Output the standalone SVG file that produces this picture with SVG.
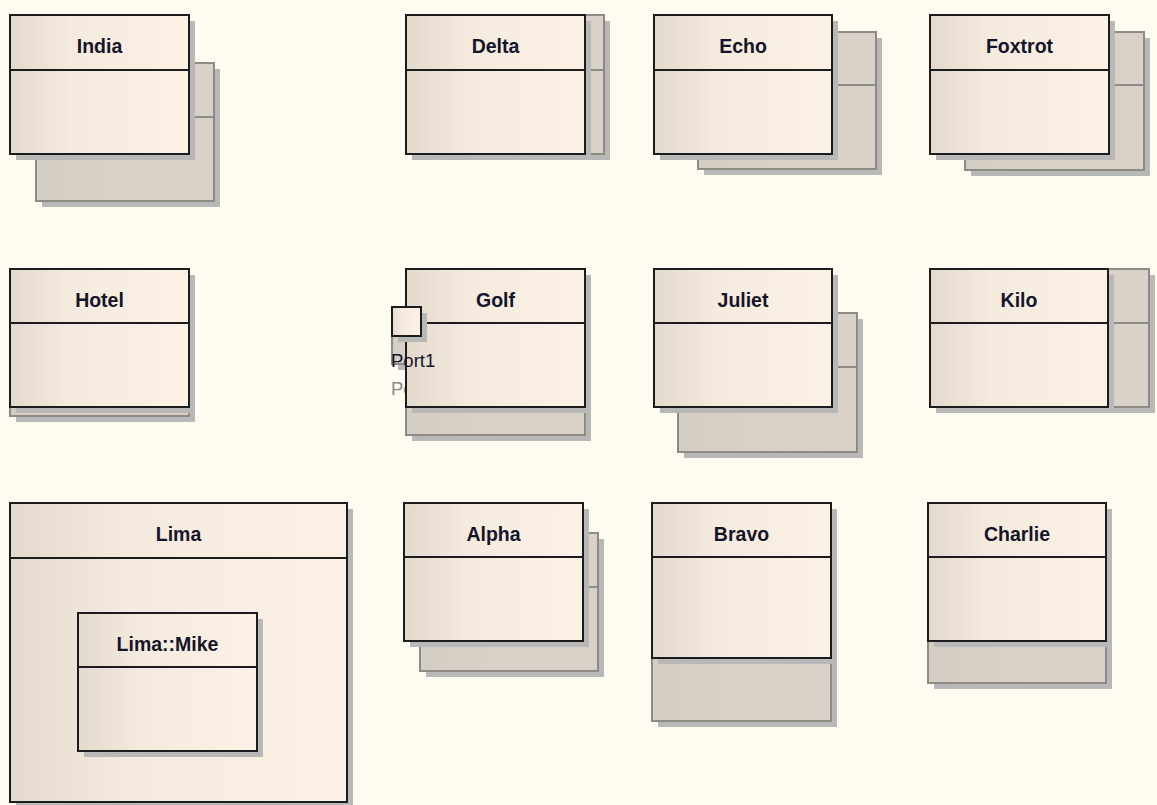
<svg xmlns="http://www.w3.org/2000/svg" width="1157" height="805" viewBox="0 0 1157 805">
<defs>
<linearGradient id="mg" x1="0" y1="0" x2="1" y2="0">
<stop offset="0" stop-color="#e3dacd"/>
<stop offset="0.35" stop-color="#f4eadd"/>
<stop offset="1" stop-color="#fbf1e4"/>
</linearGradient>
<linearGradient id="gg" x1="0" y1="0" x2="1" y2="0">
<stop offset="0" stop-color="#d3cdc3"/>
<stop offset="0.4" stop-color="#d8d1c7"/>
<stop offset="1" stop-color="#dad2c8"/>
</linearGradient>
<style>
.sh{fill:#b8b8b8}
.gh{fill:url(#gg);stroke:#8e8a85;stroke-width:2}
.gl{stroke:#8e8a85;stroke-width:2}
.mn{fill:url(#mg);stroke:#1c1c1c;stroke-width:2}
.ml{stroke:#1c1c1c;stroke-width:2}
.lb{font-family:"Liberation Sans",Arial,sans-serif;font-weight:bold;font-size:19.5px;fill:#15152a;text-anchor:middle}
.pt{font-family:"Liberation Sans",Arial,sans-serif;font-size:18.5px}
</style>
</defs>
<rect x="0" y="0" width="1157" height="805" fill="#fefbf0"/>

<g id="india">
<rect class="sh" x="42" y="69" width="178" height="138"/>
<rect class="gh" x="36" y="63" width="178" height="138"/>
<line class="gl" x1="36" y1="117" x2="214" y2="117"/>
<rect class="sh" x="16" y="21" width="179" height="139"/>
<rect class="mn" x="10" y="15" width="179" height="139"/>
<line class="ml" x1="10" y1="70" x2="189" y2="70"/>
<text class="lb" x="99.5" y="53">India</text>
</g>

<g id="delta">
<rect class="sh" x="431" y="21" width="179" height="139"/>
<rect class="gh" x="425" y="15" width="179" height="139"/>
<line class="gl" x1="425" y1="70" x2="604" y2="70"/>
<rect class="sh" x="412" y="21" width="179" height="139"/>
<rect class="mn" x="406" y="15" width="179" height="139"/>
<line class="ml" x1="406" y1="70" x2="585" y2="70"/>
<text class="lb" x="495.5" y="53">Delta</text>
</g>

<g id="echo">
<rect class="sh" x="704" y="38" width="178" height="137"/>
<rect class="gh" x="698" y="32" width="178" height="137"/>
<line class="gl" x1="698" y1="85" x2="876" y2="85"/>
<rect class="sh" x="660" y="21" width="178" height="139"/>
<rect class="mn" x="654" y="15" width="178" height="139"/>
<line class="ml" x1="654" y1="70" x2="832" y2="70"/>
<text class="lb" x="743" y="53">Echo</text>
</g>

<g id="foxtrot">
<rect class="sh" x="971" y="38" width="179" height="138"/>
<rect class="gh" x="965" y="32" width="179" height="138"/>
<line class="gl" x1="965" y1="85" x2="1144" y2="85"/>
<rect class="sh" x="936" y="21" width="179" height="139"/>
<rect class="mn" x="930" y="15" width="179" height="139"/>
<line class="ml" x1="930" y1="70" x2="1109" y2="70"/>
<text class="lb" x="1019.5" y="53">Foxtrot</text>
</g>

<g id="hotel">
<rect class="sh" x="16" y="284" width="179" height="138"/>
<rect class="gh" x="10" y="278" width="179" height="138"/>
<rect class="sh" x="16" y="275" width="179" height="138"/>
<rect class="mn" x="10" y="269" width="179" height="138"/>
<line class="ml" x1="10" y1="323" x2="189" y2="323"/>
<text class="lb" x="99.5" y="306.5">Hotel</text>
</g>

<g id="golf">
<rect class="sh" x="412" y="303" width="179" height="138"/>
<rect class="gh" x="406" y="297" width="179" height="138"/>
<rect class="sh" x="398" y="341" width="29" height="29"/>
<rect class="gh" x="392" y="335" width="29" height="29"/>
<text class="pt" x="391" y="394.5" fill="#8c8c8c">Port1</text>
<rect class="sh" x="412" y="275" width="179" height="138"/>
<rect class="mn" x="406" y="269" width="179" height="138"/>
<line class="ml" x1="406" y1="323" x2="585" y2="323"/>
<text class="lb" x="495.5" y="306.5">Golf</text>
</g>

<g id="port1">
<rect class="sh" x="398" y="313" width="29" height="29"/>
<rect class="mn" x="392" y="307" width="29" height="29"/>
<text class="pt" x="391" y="366.5" fill="#15152a">Port1</text>
</g>

<g id="juliet">
<rect class="sh" x="684" y="319" width="179" height="139"/>
<rect class="gh" x="678" y="313" width="179" height="139"/>
<line class="gl" x1="678" y1="367" x2="857" y2="367"/>
<rect class="sh" x="660" y="275" width="178" height="138"/>
<rect class="mn" x="654" y="269" width="178" height="138"/>
<line class="ml" x1="654" y1="323" x2="832" y2="323"/>
<text class="lb" x="743" y="306.5">Juliet</text>
</g>

<g id="kilo">
<rect class="sh" x="977" y="275" width="178" height="138"/>
<rect class="gh" x="971" y="269" width="178" height="138"/>
<line class="gl" x1="971" y1="323" x2="1149" y2="323"/>
<rect class="sh" x="936" y="275" width="178" height="138"/>
<rect class="mn" x="930" y="269" width="178" height="138"/>
<line class="ml" x1="930" y1="323" x2="1108" y2="323"/>
<text class="lb" x="1019" y="306.5">Kilo</text>
</g>

<g id="lima">
<rect class="sh" x="16" y="509" width="337" height="299"/>
<rect class="mn" x="10" y="503" width="337" height="299"/>
<line class="ml" x1="10" y1="558" x2="347" y2="558"/>
<text class="lb" x="178.5" y="541">Lima</text>
</g>

<g id="lima-mike">
<rect class="sh" x="84" y="619" width="179" height="138"/>
<rect class="mn" x="78" y="613" width="179" height="138"/>
<line class="ml" x1="78" y1="667" x2="257" y2="667"/>
<text class="lb" x="167.5" y="651">Lima::Mike</text>
</g>

<g id="alpha">
<rect class="sh" x="426" y="539" width="178" height="138"/>
<rect class="gh" x="420" y="533" width="178" height="138"/>
<line class="gl" x1="420" y1="587" x2="598" y2="587"/>
<rect class="sh" x="410" y="509" width="179" height="138"/>
<rect class="mn" x="404" y="503" width="179" height="138"/>
<line class="ml" x1="404" y1="557" x2="583" y2="557"/>
<text class="lb" x="493.5" y="540.5">Alpha</text>
</g>

<g id="bravo">
<rect class="sh" x="658" y="572" width="179" height="155"/>
<rect class="gh" x="652" y="566" width="179" height="155"/>
<rect class="sh" x="658" y="509" width="179" height="155"/>
<rect class="mn" x="652" y="503" width="179" height="155"/>
<line class="ml" x1="652" y1="557" x2="831" y2="557"/>
<text class="lb" x="741.5" y="540.5">Bravo</text>
</g>

<g id="charlie">
<rect class="sh" x="934" y="551" width="178" height="138"/>
<rect class="gh" x="928" y="545" width="178" height="138"/>
<rect class="sh" x="934" y="509" width="178" height="138"/>
<rect class="mn" x="928" y="503" width="178" height="138"/>
<line class="ml" x1="928" y1="557" x2="1106" y2="557"/>
<text class="lb" x="1017" y="540.5">Charlie</text>
</g>

<g id="connectors"/>
</svg>
